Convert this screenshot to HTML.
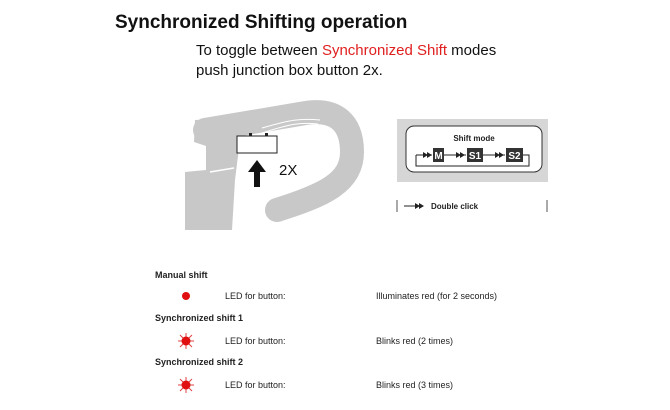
<!DOCTYPE html>
<html><head><meta charset="utf-8"><style>
body{margin:0;background:#fff;width:670px;height:410px;overflow:hidden}
svg{display:block}
</style></head><body>
<svg width="670" height="410" xmlns="http://www.w3.org/2000/svg" font-family="Liberation Sans, sans-serif">
<text x="115" y="28" font-size="19" font-weight="bold" fill="#111">Synchronized Shifting operation</text>
<text x="196" y="55" font-size="15" fill="#111">To toggle between <tspan fill="#e02020">Synchronized Shift</tspan> modes</text>
<text x="196" y="75" font-size="15" fill="#111">push junction box button 2x.</text>
<!-- handlebar -->
<path d="M205 130 L300 114 C338 106 352 125 352 152 C352 182 325 195 277 210" stroke="#c8c8c8" stroke-width="24" stroke-linecap="round" fill="none"/>
<path d="M195 120 L232 118 L240 140 L235 180 L232 230 L185 230 L185 172 L206 170 L206 146 L194 142 Z" fill="#c8c8c8"/>
<line x1="210" y1="172" x2="234" y2="168" stroke="#fff" stroke-width="1.5"/>
<path d="M262 128 C290 120 300 118 320 120" stroke="#fff" stroke-width="1" fill="none"/>
<path d="M262 133 C290 124 300 122 318 124" stroke="#fff" stroke-width="1" fill="none"/>
<rect x="237" y="136" width="40" height="17" fill="#fff" stroke="#222" stroke-width="1"/>
<rect x="249" y="133" width="3" height="3" fill="#222"/><rect x="265" y="133" width="3" height="3" fill="#222"/>
<path d="M257 160 L266 172 L260 172 L260 187 L254 187 L254 172 L248 172 Z" fill="#111"/>
<text x="279" y="175" font-size="15" fill="#111">2X</text>
<!-- shift mode -->
<rect x="397" y="119" width="151" height="63" fill="#d6d6d6"/>
<rect x="406" y="126" width="136" height="46" rx="8" fill="#fff" stroke="#333" stroke-width="1"/>
<text x="474" y="141" font-size="8" font-weight="bold" text-anchor="middle" fill="#222">Shift mode</text>
<path d="M416 155 L432 155 M444 155 L466 155 M483 155 L505 155 M523 155 L529 155 L529 166 L416 166 L416 155" stroke="#222" stroke-width="1" fill="none"/>
<rect x="433" y="148" width="11" height="14" fill="#333"/><text x="438.5" y="159" font-size="10" font-weight="bold" fill="#fff" text-anchor="middle">M</text>
<rect x="467" y="148" width="16" height="14" fill="#333"/><text x="475" y="159" font-size="10" font-weight="bold" fill="#fff" text-anchor="middle">S1</text>
<rect x="506" y="148" width="17" height="14" fill="#333"/><text x="514.5" y="159" font-size="10" font-weight="bold" fill="#fff" text-anchor="middle">S2</text>
<g fill="#222"><path d="M423 152 L428 155 L423 158Z M427 152 L432 155 L427 158Z M456 152 L461 155 L456 158Z M460 152 L465 155 L460 158Z M495 152 L500 155 L495 158Z M499 152 L504 155 L499 158Z"/></g>
<line x1="397" y1="200" x2="397" y2="212" stroke="#555"/><line x1="547" y1="200" x2="547" y2="212" stroke="#555"/>
<line x1="404" y1="206" x2="418" y2="206" stroke="#222"/>
<path d="M415 203 L420 206 L415 209Z M419 203 L424 206 L419 209Z" fill="#222"/>
<text x="431" y="209" font-size="8" font-weight="bold" fill="#222">Double click</text>
<!-- legend -->
<g font-size="9" fill="#222">
<text x="155" y="278" font-weight="bold">Manual shift</text>
<text x="225" y="299">LED for button:</text><text x="376" y="299">Illuminates red (for 2 seconds)</text>
<text x="155" y="321" font-weight="bold">Synchronized shift 1</text>
<text x="225" y="344">LED for button:</text><text x="376" y="344">Blinks red (2 times)</text>
<text x="155" y="365" font-weight="bold">Synchronized shift 2</text>
<text x="225" y="388">LED for button:</text><text x="376" y="388">Blinks red (3 times)</text>
</g>
<circle cx="186" cy="296" r="4" fill="#e01010"/>
<g stroke="#e04040" stroke-width="1">
<path d="M186 333 L186 349 M178 341 L194 341 M180 335 L192 347 M192 335 L180 347"/>
<path d="M186 377 L186 393 M178 385 L194 385 M180 379 L192 391 M192 379 L180 391"/>
</g>
<circle cx="186" cy="341" r="4.5" fill="#e01010"/>
<circle cx="186" cy="385" r="4.5" fill="#e01010"/>
</svg>
</body></html>
